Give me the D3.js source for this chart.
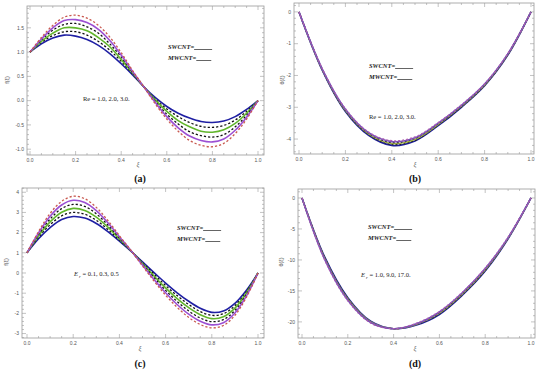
<!DOCTYPE html>
<html><head><meta charset="utf-8">
<script src="https://cdn.jsdelivr.net/npm/d3@7"></script>
<style>
html,body{margin:0;padding:0;background:#fff;}
svg{display:block;}
</style></head>
<body>
<svg id="chart" width="550" height="373"></svg>
<script>
// ---------- DATA ----------
const xiFine = [0,0.05,0.1,0.15,0.2,0.25,0.3,0.35,0.4,0.45,0.5,0.55,0.6,0.65,0.7,0.75,0.8,0.85,0.9,0.95,1.0];
const xiCoarse = [0,0.1,0.2,0.3,0.4,0.5,0.6,0.7,0.8,0.9,1.0];

// series order: blue, black dashed, green, black dashed, purple, red dashed
const seriesNames = ["blue","dash1","green","dash2","purple","red"];

// (a) f(xi), Re = 1.0, 2.0, 3.0
const a_blue   = [1,1.17,1.29,1.35,1.33,1.26,1.14,0.97,0.76,0.53,0.28,0.06,-0.12,-0.26,-0.36,-0.43,-0.45,-0.42,-0.33,-0.18,0];
const a_dash1  = [1,1.20,1.34,1.42,1.42,1.35,1.22,1.04,0.81,0.55,0.28,0.03,-0.17,-0.33,-0.45,-0.53,-0.55,-0.51,-0.40,-0.22,0];
const a_green  = [1,1.22,1.39,1.50,1.50,1.44,1.30,1.11,0.85,0.57,0.28,0.01,-0.22,-0.41,-0.54,-0.63,-0.65,-0.60,-0.47,-0.26,0];
const a_dash2  = [1,1.25,1.45,1.57,1.59,1.52,1.39,1.17,0.90,0.58,0.28,-0.02,-0.28,-0.48,-0.64,-0.72,-0.75,-0.70,-0.54,-0.30,0];
const a_purple = [1,1.27,1.50,1.65,1.67,1.61,1.47,1.24,0.94,0.60,0.28,-0.04,-0.33,-0.56,-0.73,-0.82,-0.85,-0.79,-0.61,-0.34,0];
const a_red    = [1,1.30,1.55,1.72,1.76,1.70,1.55,1.31,0.99,0.62,0.28,-0.07,-0.38,-0.63,-0.82,-0.92,-0.95,-0.88,-0.68,-0.38,0];

// (b) theta(xi), Re = 1.0, 2.0, 3.0
const b_blue   = [0,-1.83,-3.13,-3.88,-4.20,-4.06,-3.58,-3.00,-2.32,-1.36,0];
const b_dash1  = [0,-1.82,-3.11,-3.86,-4.17,-4.04,-3.56,-2.99,-2.31,-1.35,0];
const b_green  = [0,-1.81,-3.10,-3.84,-4.14,-4.01,-3.54,-2.97,-2.30,-1.34,0];
const b_dash2  = [0,-1.80,-3.08,-3.82,-4.11,-3.98,-3.52,-2.96,-2.29,-1.33,0];
const b_purple = [0,-1.79,-3.06,-3.80,-4.08,-3.96,-3.50,-2.94,-2.27,-1.32,0];
const b_red    = [0,-1.78,-3.04,-3.78,-4.05,-3.93,-3.48,-2.92,-2.26,-1.31,0];

// (c) f(xi), Er = 0.1, 0.3, 0.5
const c_blue   = [1,1.70,2.25,2.65,2.80,2.72,2.45,2.05,1.58,1.08,0.55,0.02,-0.50,-0.98,-1.40,-1.75,-1.95,-1.88,-1.50,-0.85,0];
const c_dash1  = [1,1.77,2.39,2.83,3.00,2.91,2.61,2.16,1.63,1.09,0.51,-0.06,-0.62,-1.12,-1.56,-1.91,-2.10,-2.02,-1.62,-0.92,0];
const c_green  = [1,1.84,2.53,3.01,3.20,3.10,2.77,2.27,1.69,1.10,0.47,-0.15,-0.74,-1.27,-1.72,-2.07,-2.26,-2.17,-1.74,-0.99,0];
const c_dash2  = [1,1.91,2.67,3.19,3.40,3.30,2.93,2.38,1.74,1.10,0.43,-0.23,-0.86,-1.41,-1.88,-2.23,-2.41,-2.31,-1.86,-1.06,0];
const c_purple = [1,1.98,2.81,3.37,3.60,3.49,3.09,2.49,1.80,1.11,0.39,-0.32,-0.98,-1.56,-2.04,-2.39,-2.57,-2.46,-1.98,-1.13,0];
const c_red    = [1,2.05,2.95,3.55,3.80,3.68,3.25,2.60,1.85,1.12,0.35,-0.40,-1.10,-1.70,-2.20,-2.55,-2.72,-2.60,-2.10,-1.20,0];

// (d) theta(xi), Er = 1.0, 9.0, 17.0
const d_blue   = [0,-9.6,-16.1,-19.9,-21.1,-20.5,-18.8,-15.7,-11.8,-6.6,0];
const d_dash1  = [0,-9.7,-16.2,-20.0,-21.1,-20.4,-18.7,-15.6,-11.7,-6.5,0];
const d_green  = [0,-9.8,-16.3,-20.0,-21.1,-20.4,-18.6,-15.5,-11.6,-6.5,0];
const d_dash2  = [0,-9.9,-16.4,-20.1,-21.1,-20.3,-18.5,-15.4,-11.5,-6.4,0];
const d_purple = [0,-10.0,-16.5,-20.1,-21.1,-20.3,-18.4,-15.3,-11.4,-6.4,0];
const d_red    = [0,-10.1,-16.6,-20.2,-21.1,-20.2,-18.3,-15.2,-11.3,-6.3,0];

const xTicks = [0,0.2,0.4,0.6,0.8,1.0];
const xTickLabels = ["0.0","0.2","0.4","0.6","0.8","1.0"];
const a_yTicks = [-1.0,-0.5,0.0,0.5,1.0,1.5];
const a_yTickLabels = ["-1.0","-0.5","0.0","0.5","1.0","1.5"];
const b_yTicks = [-4,-3,-2,-1,0];
const b_yTickLabels = ["-4","-3","-2","-1","0"];
const c_yTicks = [-3,-2,-1,0,1,2,3,4];
const c_yTickLabels = ["-3","-2","-1","0","1","2","3","4"];
const d_yTicks = [-20,-15,-10,-5,0];
const d_yTickLabels = ["-20","-15","-10","-5","0"];

const panelLabels = ["(a)","(b)","(c)","(d)"];
const paramTexts = ["Re = 1.0, 2.0, 3.0.","Re = 1.0, 2.0, 3.0.","= 0.1, 0.3, 0.5","= 1.0, 9.0, 17.0."];

// ---------- STYLE ----------
const styles = {
  blue:   {color:"#1f1fa3", dash:null, w:1.6},
  dash1:  {color:"#111111", dash:"2.2,2", w:1.3},
  green:  {color:"#62b62c", dash:null, w:1.6},
  dash2:  {color:"#111111", dash:"2.2,2", w:1.3},
  purple: {color:"#9c4fd3", dash:null, w:1.6},
  red:    {color:"#c8584f", dash:"2.2,2", w:1.3}
};
const stylesBD = {
  blue:   {color:"#1f1f9a", dash:null, w:1.6},
  dash1:  {color:"#222222", dash:"2,2", w:1.2},
  green:  {color:"#a0b040", dash:null, w:1.3},
  dash2:  {color:"#333333", dash:"2,2", w:1.2},
  purple: {color:"#7a4fb8", dash:null, w:1.6},
  red:    {color:"#b060b0", dash:"2,2", w:1.2}
};

const svg = d3.select("#chart");

const panels = [
  {frame:[27,264,6,155], xr:[30,258], yd:[-1.12,1.95], xs:xiFine,
   series:[a_blue,a_dash1,a_green,a_dash2,a_purple,a_red], yt:a_yTicks, ytl:a_yTickLabels, ymin:0.1,
   ylab:"f(ξ)", ylabPos:[9,80], xlabPos:[138,166], plabPos:[140,182], st:styles,
   sw:[168,49], param:[83,101], sub:false},
  {frame:[294,534,3,154], xr:[299,531], yd:[-4.47,0.28], xs:xiCoarse,
   series:[b_blue,b_dash1,b_green,b_dash2,b_purple,b_red], yt:b_yTicks, ytl:b_yTickLabels, ymin:0.2,
   ylab:"θ(ξ)", ylabPos:[284,80], xlabPos:[415,166], plabPos:[415,182], st:stylesBD,
   sw:[369,68], param:[369,119], sub:false},
  {frame:[22,264,188,338], xr:[27,258], yd:[-3.22,4.21], xs:xiFine,
   series:[c_blue,c_dash1,c_green,c_dash2,c_purple,c_red], yt:c_yTicks, ytl:c_yTickLabels, ymin:0.2,
   ylab:"f(ξ)", ylabPos:[8,262], xlabPos:[140,350], plabPos:[140,367], st:styles,
   sw:[177,230], param:[74,276], sub:true},
  {frame:[298,535,189,338], xr:[302,531], yd:[-22.6,1.45], xs:xiCoarse,
   series:[d_blue,d_dash1,d_green,d_dash2,d_purple,d_red], yt:d_yTicks, ytl:d_yTickLabels, ymin:1,
   ylab:"θ(ξ)", ylabPos:[283,262], xlabPos:[415,350], plabPos:[415,367], st:stylesBD,
   sw:[368,229], param:[361,277], sub:true}
];

panels.forEach((p,i)=>{
  const [fl,fr,ft,fb] = p.frame;
  const x = d3.scaleLinear().domain([0,1]).range(p.xr);
  const y = d3.scaleLinear().domain(p.yd).range([fb,ft]);
  const g = svg.append("g");

  // frame
  g.append("rect").attr("x",fl).attr("y",ft).attr("width",fr-fl).attr("height",fb-ft)
    .attr("fill","#fff").attr("stroke","#9a9a9a").attr("stroke-width",0.8);

  // ticks (all four sides, inward)
  const tk = g.append("g").attr("stroke","#9a9a9a").attr("stroke-width",0.6);
  const xMinor = d3.range(0,1.0001,0.05);
  xMinor.forEach(v=>{
    const major = Math.abs(v*5 - Math.round(v*5))<1e-6;
    const L = major?4:2;
    tk.append("line").attr("x1",x(v)).attr("x2",x(v)).attr("y1",fb).attr("y2",fb-L);
    tk.append("line").attr("x1",x(v)).attr("x2",x(v)).attr("y1",ft).attr("y2",ft+L);
  });
  const yMinorVals = d3.range(Math.ceil(p.yd[0]/p.ymin)*p.ymin, p.yd[1], p.ymin);
  const step = p.yt[1]-p.yt[0];
  yMinorVals.forEach(v=>{
    const major = Math.abs(v/step - Math.round(v/step))<1e-6;
    const L = major?4:2;
    tk.append("line").attr("x1",fl).attr("x2",fl+L).attr("y1",y(v)).attr("y2",y(v));
    tk.append("line").attr("x1",fr).attr("x2",fr-L).attr("y1",y(v)).attr("y2",y(v));
  });

  // tick labels
  xTicks.forEach((v,k)=>{
    g.append("text").attr("x",x(v)).attr("y",fb+7).attr("text-anchor","middle")
      .attr("font-family","Liberation Sans, Arial, sans-serif").attr("font-size",5)
      .attr("fill","#555").text(xTickLabels[k]);
  });
  p.yt.forEach((v,k)=>{
    g.append("text").attr("x",fl-3).attr("y",y(v)+1.8).attr("text-anchor","end")
      .attr("font-family","Liberation Sans, Arial, sans-serif").attr("font-size",5)
      .attr("fill","#555").text(p.ytl[k]);
  });

  // axis labels
  g.append("text").attr("transform",`translate(${p.ylabPos[0]},${p.ylabPos[1]}) rotate(-90)`)
    .attr("text-anchor","middle").attr("font-family","Liberation Sans, Arial, sans-serif")
    .attr("font-size",5.5).attr("fill","#555").text(p.ylab);
  g.append("text").attr("x",p.xlabPos[0]).attr("y",p.xlabPos[1]).attr("text-anchor","middle")
    .attr("font-family","Liberation Serif, serif").attr("font-style","italic")
    .attr("font-size",7).attr("fill","#555").text("ξ");

  // curves
  const line = d3.line().x(d=>x(d[0])).y(d=>y(d[1])).curve(d3.curveCatmullRom.alpha(0.5));
  p.series.forEach((vals,k)=>{
    const s = p.st[seriesNames[k]];
    const pts = p.xs.map((xv,j)=>[xv,vals[j]]);
    g.append("path").attr("d",line(pts)).attr("fill","none")
      .attr("stroke",s.color).attr("stroke-width",s.w)
      .attr("stroke-dasharray",s.dash).attr("stroke-linecap","butt");
  });

  // legend text
  const sf = "Liberation Serif, 'Times New Roman', serif";
  const sw = g.append("g").attr("font-family",sf).attr("font-style","italic").attr("font-weight","bold")
    .attr("font-size",6.5).attr("fill","#222");
  const t1 = sw.append("text").attr("x",p.sw[0]).attr("y",p.sw[1]).text("SWCNT=");
  const t2 = sw.append("text").attr("x",p.sw[0]).attr("y",p.sw[1]+11).text("MWCNT=");
  const w1 = t1.node().getComputedTextLength();
  const w2 = t2.node().getComputedTextLength();
  g.append("line").attr("x1",p.sw[0]+w1).attr("x2",p.sw[0]+w1+18).attr("y1",p.sw[1]+0.5).attr("y2",p.sw[1]+0.5)
    .attr("stroke","#222").attr("stroke-width",0.7);
  g.append("line").attr("x1",p.sw[0]+w2).attr("x2",p.sw[0]+w2+15).attr("y1",p.sw[1]+11.5).attr("y2",p.sw[1]+11.5)
    .attr("stroke","#222").attr("stroke-width",0.7);

  const pt = g.append("text").attr("x",p.param[0]).attr("y",p.param[1])
    .attr("font-family",sf).attr("font-size",6.5).attr("fill","#222");
  if (p.sub) {
    pt.append("tspan").attr("font-style","italic").text("E");
    pt.append("tspan").attr("font-style","italic").attr("font-size",4.5).attr("dy",1.5).text(" r");
    pt.append("tspan").attr("dy",-1.5).text(" " + paramTexts[i]);
  } else {
    pt.text(paramTexts[i]);
  }

  // panel label
  g.append("text").attr("x",p.plabPos[0]).attr("y",p.plabPos[1]).attr("text-anchor","middle")
    .attr("font-family",sf).attr("font-weight","bold").attr("font-size",10).attr("fill","#111")
    .text(panelLabels[i]);
});
</script>
</body></html>
